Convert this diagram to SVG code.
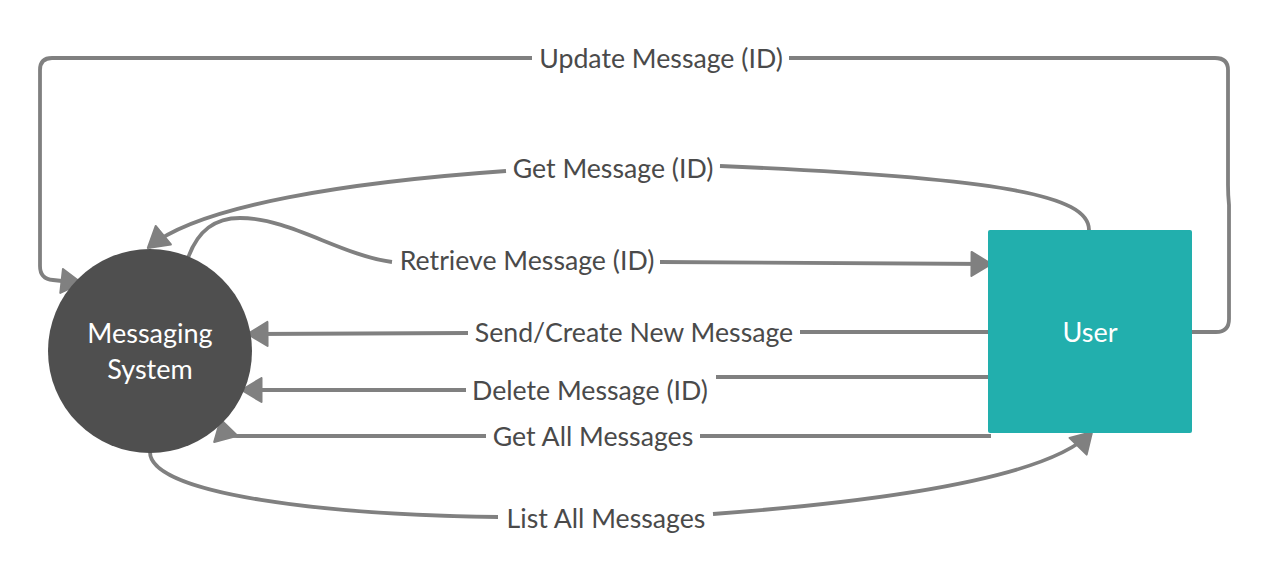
<svg xmlns="http://www.w3.org/2000/svg" width="1270" height="576" viewBox="0 0 1270 576">
<defs>
<style>
.conn{fill:none;stroke:#808080;stroke-width:3.8;stroke-linecap:butt;stroke-linejoin:round}
.lbl{font-family:Lato,"Liberation Sans",sans-serif;font-size:26.7px;fill:#4a4a4a;text-anchor:middle}
.ntxt{font-family:Lato,"Liberation Sans",sans-serif;font-size:27px;fill:#ffffff;text-anchor:middle}
</style>
<marker id="arr" markerUnits="userSpaceOnUse" viewBox="0 0 23 27" markerWidth="23" markerHeight="27" refX="20" refY="13.5" orient="auto">
<path d="M1.5,1.5 L21.5,13.5 L1.5,25.5 Z" fill="#808080" stroke="#808080" stroke-width="2" stroke-linejoin="round"/>
</marker>
</defs>
<rect width="1270" height="576" fill="#ffffff"/>
<g id="connectors">
<!-- Update Message (ID) -->
<path class="conn" d="M1189,332 L1216,332 Q1229,332 1229,319 L1229,205 Q1228,195 1228,185 L1228,70 Q1228,58 1215,58 L789,58"/>
<path class="conn" marker-end="url(#arr)" d="M532,58 L52,58 Q40,58 40,70 L40,266 Q40,279 53,280 L80,283"/>
<!-- Get Message (ID) -->
<path class="conn" d="M1089,230 C1089,195 1000,178 720,166"/>
<path class="conn" marker-end="url(#arr)" d="M506,171 C350,182 200,205 149,247"/>
<!-- Retrieve Message (ID) -->
<path class="conn" d="M188,258 C198,230 215,218 240,218 C290,218 340,255 392,262"/>
<path class="conn" marker-end="url(#arr)" d="M660,262 L990,264"/>
<!-- Send/Create New Message -->
<path class="conn" d="M988,332 L800,332"/>
<path class="conn" marker-end="url(#arr)" d="M468,333 L249,334"/>
<!-- Delete Message (ID) -->
<path class="conn" d="M988,377 L716,377"/>
<path class="conn" marker-end="url(#arr)" d="M466,390 L243,390"/>
<!-- Get All Messages -->
<path class="conn" d="M991,436 L700,436"/>
<path class="conn" marker-end="url(#arr)" d="M486,436 L237,436 Q225,436 221,421"/>
<!-- List All Messages -->
<path class="conn" d="M150,452 C150,495 330,515 498,517"/>
<path class="conn" marker-end="url(#arr)" d="M713,514 C900,500 1050,475 1091,433"/>
</g>
<g id="labels">
<text class="lbl" x="661" y="68">Update Message (ID)</text>
<text class="lbl" x="613" y="178">Get Message (ID)</text>
<text class="lbl" x="527" y="270">Retrieve Message (ID)</text>
<text class="lbl" x="634" y="342">Send/Create New Message</text>
<text class="lbl" x="590" y="400">Delete Message (ID)</text>
<text class="lbl" x="593" y="446">Get All Messages</text>
<text class="lbl" x="606" y="528">List All Messages</text>
</g>
<g id="messaging-system">
<circle cx="150" cy="351" r="102" fill="#4f4f4f"/>
<text class="ntxt" x="150" y="343">Messaging</text>
<text class="ntxt" x="150" y="379">System</text>
</g>
<g id="user">
<rect x="988" y="230" width="204" height="203" rx="2" fill="#22afad"/>
<text class="ntxt" x="1090" y="342">User</text>
</g>
</svg>
